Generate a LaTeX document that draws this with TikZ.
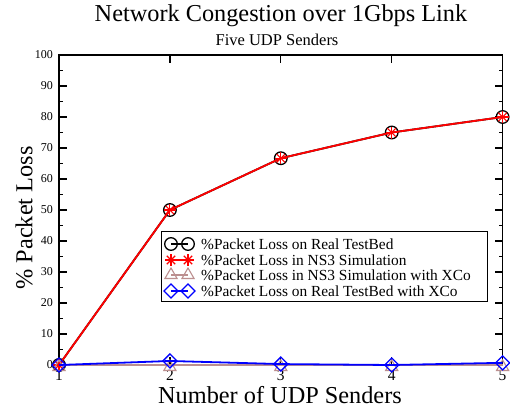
\documentclass[tikz,border=0pt]{standalone}
\usepackage{fontspec}
\setmainfont{Liberation Serif}
\definecolor{rosy}{HTML}{BC8F8F}
\definecolor{sred}{HTML}{FF0000}
\definecolor{sblue}{HTML}{0000FF}
\tikzset{
  frameline/.style={black,line width=1.4pt},
  tickline/.style={black,line width=1.2pt},
  serline/.style={line width=1.8pt},
  circmark/.pic={\draw[black,line width=1.3pt] (0,0) circle (6.3pt);},
  starmark/.pic={\foreach \a in {0,45,90,135}{\draw[sred,line width=1.1pt] (\a:6pt)--(\a+180:6pt);}},
  trimark/.pic={\draw[rosy,line width=1.1pt] (90:7pt)--(210:7pt)--(330:7pt)--cycle;},
  diamark/.pic={\draw[sblue,line width=1.3pt] (0:7pt)--(90:7pt)--(180:7pt)--(270:7pt)--cycle;},
  ytick/.style={anchor=east,inner sep=0pt,font=\fontsize{12}{14}\selectfont},
  xtick/.style={anchor=center,inner sep=0pt,font=\fontsize{15.5}{17}\selectfont},
  legtext/.style={anchor=west,inner sep=0pt,font=\fontsize{15.4}{17}\selectfont},
}
\begin{document}
\begin{tikzpicture}[x=1pt,y=1pt]
\useasboundingbox (0,0) rectangle (510,408);
\fill[white] (0,0) rectangle (510,408);
% titles
\node (title) at (281,392) {\fontsize{24.3}{28}\selectfont Network Congestion over 1Gbps Link};
\node (subtitle) at (277,368) {\fontsize{16.5}{19}\selectfont Five UDP Senders};
\node[inner sep=0pt,anchor=base] (xlabel) at (280,5) {\fontsize{24.3}{28}\selectfont Number of UDP Senders};
\node[rotate=90] (ylabel) at (24,190) {\fontsize{24.3}{28}\selectfont \% Packet Loss};
\begin{scope}[shift={(59pt,43pt)},x=110.9pt,y=3.1pt]
  % ticks left/right
  \foreach \v in {0,10,...,100}{
    \draw[tickline] (0,\v) -- ++(8pt,0);
    \draw[tickline] (4,\v) -- ++(-8pt,0);
    \node[ytick] (yl\v) at ([xshift=-6pt]0,\v) {\v};
  }
  \foreach \v in {5,15,...,95}{
    \draw[tickline] (0,\v) -- ++(4pt,0);
    \draw[tickline] (4,\v) -- ++(-4pt,0);
  }
  \foreach \n in {1,...,5}{
    \pgfmathtruncatemacro{\m}{\n-1}
    \draw[tickline] (\m,0) -- ++(0,8pt);
    \draw[tickline] (\m,100) -- ++(0,-8pt);
    \node[xtick] (xl\n) at ([yshift=-10.5pt]\m,0) {\n};
  }
  \draw[frameline] (0,0) rectangle (4,100);
  % data points
  \coordinate (a1) at (0,0);
  \coordinate (a2) at (1,50);
  \coordinate (a3) at (2,66.7);
  \coordinate (a4) at (3,75);
  \coordinate (a5) at (4,80);
  \coordinate (z1) at (0,0);
  \coordinate (z2) at (1,0);
  \coordinate (z3) at (2,0);
  \coordinate (z4) at (3,0);
  \coordinate (z5) at (4,0);
  \coordinate (b1) at (0,0);
  \coordinate (b2) at (1,1.3);
  \coordinate (b3) at (2,0.3);
  \coordinate (b4) at (3,0);
  \coordinate (b5) at (4,0.7);
  % series 1 black
  \draw[serline,black] (a1)--(a2)--(a3)--(a4)--(a5);
  \foreach \p in {a1,a2,a3,a4,a5}{\pic at (\p) {circmark};}
  % series 2 red
  \draw[serline,sred] (a1)--(a2)--(a3)--(a4)--(a5);
  \foreach \p in {a1,a2,a3,a4,a5}{\pic at (\p) {starmark};}
  % series 3 rosy
  \draw[serline,rosy] (z1)--(z2)--(z3)--(z4)--(z5);
  \foreach \p in {z1,z2,z3,z4,z5}{\pic at ([yshift=-2pt]\p) {trimark};}
  % series 4 blue
  \draw[serline,sblue] (b1)--(b2)--(b3)--(b4)--(b5);
  \foreach \p in {b1,b2,b3,b4,b5}{\pic at (\p) {diamark};}
\end{scope}
% legend
\node[draw=black,line width=0.9pt,minimum width=326pt,minimum height=70pt,anchor=south west,inner sep=0pt] (legend) at (161,106) {};
\coordinate (l1a) at (171,164); \coordinate (l1b) at (188,164);
\coordinate (l2a) at (171,148); \coordinate (l2b) at (188,148);
\coordinate (l3a) at (171,133); \coordinate (l3b) at (188,133);
\coordinate (l4a) at (171,117); \coordinate (l4b) at (188,117);
\draw[serline,black,line width=1.3pt] (l1a)--(l1b);
\pic at (l1a) {circmark}; \pic at (l1b) {circmark};
\draw[serline,sred,line width=1.3pt] (l2a)--(l2b);
\pic at (l2a) {starmark}; \pic at (l2b) {starmark};
\draw[serline,rosy,line width=1.3pt] (l3a)--(l3b);
\pic at (l3a) {trimark}; \pic at (l3b) {trimark};
\draw[serline,sblue,line width=1.3pt] (l4a)--(l4b);
\pic at (l4a) {diamark}; \pic at (l4b) {diamark};
\node[legtext] (t1) at (201,164) {\%Packet Loss on Real TestBed};
\node[legtext] (t2) at (201,148) {\%Packet Loss in NS3 Simulation};
\node[legtext] (t3) at (201,133) {\%Packet Loss in NS3 Simulation with XCo};
\node[legtext] (t4) at (201,117) {\%Packet Loss on Real TestBed with XCo};
\end{tikzpicture}
\end{document}
